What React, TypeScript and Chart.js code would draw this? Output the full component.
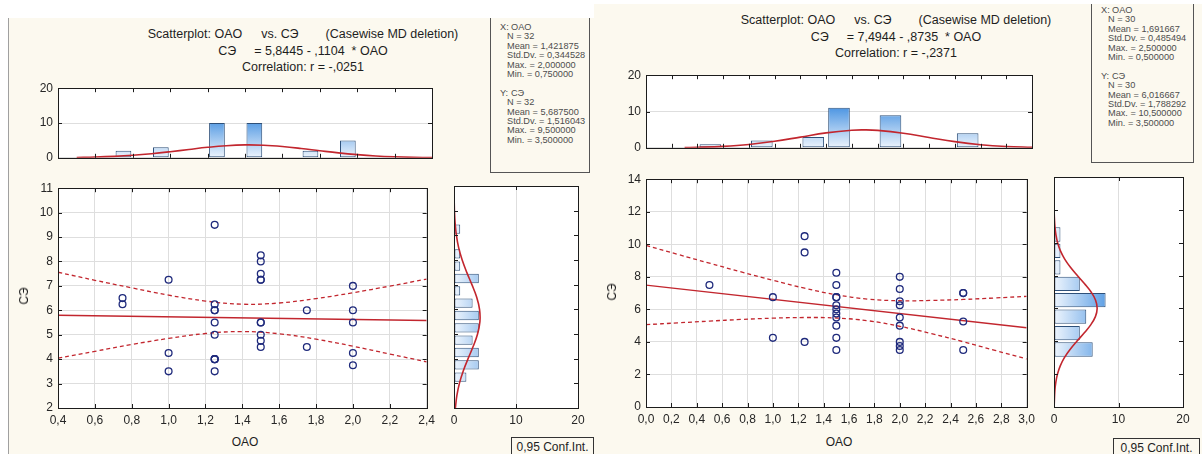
import React, { useEffect, useRef } from "react";
import { Chart, registerables } from "chart.js";

Chart.register(...registerables);

const FONT = "'Liberation Sans', Arial, Helvetica, sans-serif";
Chart.defaults.font.family = FONT;

// ================= LEFT PANEL (N = 32) =================
const L_TITLE_1 = ["Scatterplot: OAO", "vs. СЭ", "(Casewise MD deletion)"];
const L_TITLE_2 = ["СЭ", "= 5,8445 - ,1104  * OAO"];
const L_TITLE_3 = "Correlation: r = -,0251";

const L_X = [0.75, 0.75, 1, 1, 1, 1.25, 1.25, 1.25, 1.25, 1.25, 1.25, 1.25, 1.25, 1.25, 1.25, 1.5, 1.5, 1.5, 1.5, 1.5, 1.5, 1.5, 1.5, 1.5, 1.5, 1.75, 1.75, 2, 2, 2, 2, 2];
const L_Y = [6.5, 6.25, 7.25, 4.25, 3.5, 9.5, 6.25, 6.0, 6.0, 5.5, 5.0, 4.0, 4.0, 4.0, 3.5, 8.25, 8.0, 7.5, 7.25, 7.25, 5.5, 5.5, 5.0, 4.75, 4.5, 6.0, 4.5, 7.0, 6.0, 5.5, 4.25, 3.75];

const L_FIT_X = [0.4, 2.4];
const L_FIT_Y = [5.8, 5.58];
const L_BAND_X = [0.4, 0.6, 0.8, 1.0, 1.2, 1.4, 1.6, 1.8, 2.0, 2.2, 2.4];
const L_BAND_UP = [7.56, 7.23, 6.92, 6.62, 6.38, 6.25, 6.3, 6.48, 6.72, 6.99, 7.28];
const L_BAND_LO = [4.04, 4.32, 4.6, 4.85, 5.05, 5.13, 5.04, 4.82, 4.53, 4.21, 3.89];

const L_XHIST_MID = [0.75, 0.95, 1.25, 1.45, 1.75, 1.95];
const L_XHIST_N = [2, 3, 10, 10, 2, 5];
const L_XCURVE_X = [0.5, 0.6, 0.7, 0.8, 0.9, 1.0, 1.1, 1.2, 1.3, 1.4, 1.5, 1.6, 1.7, 1.8, 1.9, 2.0, 2.1, 2.2, 2.3, 2.4];
const L_XCURVE_N = [0.1, 0.21, 0.41, 0.73, 1.18, 1.75, 2.39, 3.01, 3.48, 3.7, 3.61, 3.24, 2.68, 2.03, 1.41, 0.91, 0.53, 0.29, 0.14, 0.07];

const L_YHIST_MID = [9.25, 8.25, 7.75, 7.25, 6.75, 6.25, 5.75, 5.25, 4.75, 4.25, 3.75, 3.25];
const L_YHIST_N = [1, 1, 1, 4, 1, 3, 4, 4, 3, 4, 4, 2];
const L_YCURVE_Y = [2, 2.5, 3, 3.5, 4, 4.5, 5, 5.5, 6, 6.5, 7, 7.5, 8, 8.5, 9, 9.5, 10, 10.3];
const L_YCURVE_N = [0.22, 0.46, 0.87, 1.49, 2.27, 3.1, 3.8, 4.18, 4.12, 3.65, 2.89, 2.06, 1.32, 0.75, 0.39, 0.18, 0.07, 0.04];

const L_X_AXIS = [0.4, 2.4, 0.2]; // min, max, step
const L_Y_AXIS = [2, 11, 1];
const L_STATS_X = ["N = 32", "Mean = 1,421875", "Std.Dv. = 0,344528", "Max. = 2,000000", "Min. = 0,750000"];
const L_STATS_Y = ["N = 32", "Mean = 5,687500", "Std.Dv. = 1,516043", "Max. = 9,500000", "Min. = 3,500000"];

// ================= RIGHT PANEL (N = 30) =================
const R_TITLE_1 = ["Scatterplot: OAO", "vs. СЭ", "(Casewise MD deletion)"];
const R_TITLE_2 = ["СЭ", "= 7,4944 - ,8735  * OAO"];
const R_TITLE_3 = "Correlation: r = -,2371";

const R_X = [0.5, 1, 1, 1.25, 1.25, 1.25, 1.5, 1.5, 1.5, 1.5, 1.5, 1.5, 1.5, 1.5, 1.5, 1.5, 1.5, 2, 2, 2, 2, 2, 2, 2, 2, 2, 2.5, 2.5, 2.5, 2.5];
const R_Y = [7.5, 6.75, 4.25, 10.5, 9.5, 4.0, 8.25, 7.5, 6.75, 6.75, 6.25, 6.0, 5.75, 5.5, 5.0, 4.25, 3.5, 8.0, 7.25, 6.5, 6.25, 5.5, 5.0, 4.0, 3.75, 3.5, 7.0, 7.0, 5.25, 3.5];

const R_FIT_X = [0, 3];
const R_FIT_Y = [7.49, 4.87];
const R_BAND_X = [0, 0.25, 0.5, 0.75, 1.0, 1.25, 1.5, 1.75, 2.0, 2.25, 2.5, 2.75, 3.0];
const R_BAND_UP = [9.93, 9.38, 8.84, 8.3, 7.79, 7.3, 6.9, 6.63, 6.53, 6.55, 6.61, 6.7, 6.8];
const R_BAND_LO = [5.06, 5.17, 5.28, 5.38, 5.46, 5.5, 5.47, 5.3, 4.96, 4.51, 4.01, 3.48, 2.95];

const R_XHIST_MID = [0.5, 0.9, 1.3, 1.5, 1.9, 2.5];
const R_XHIST_N = [1, 2, 3, 11, 9, 4];
const R_XCURVE_X = [0.3, 0.4, 0.6, 0.8, 1.0, 1.2, 1.4, 1.6, 1.7, 1.8, 2.0, 2.2, 2.4, 2.6, 2.8, 3.0];
const R_XCURVE_N = [0.08, 0.14, 0.39, 0.91, 1.79, 2.95, 4.12, 4.85, 4.93, 4.81, 4.03, 2.85, 1.7, 0.86, 0.36, 0.13];

const R_YHIST_MID = [10.5, 9.5, 8.5, 7.5, 6.5, 5.5, 4.5, 3.5];
const R_YHIST_N = [1, 1, 1, 4, 8, 5, 4, 6];
const R_YCURVE_Y = [0, 1, 1.5, 2, 2.5, 3, 3.5, 4, 4.5, 5, 5.5, 6, 6.5, 7, 7.5, 8, 8.5, 9, 9.5, 10, 10.5, 11, 11.5, 11.8];
const R_YCURVE_N = [0.02, 0.13, 0.28, 0.54, 0.97, 1.61, 2.49, 3.54, 4.67, 5.69, 6.42, 6.69, 6.45, 5.75, 4.74, 3.62, 2.55, 1.66, 1.0, 0.56, 0.29, 0.14, 0.06, 0.03];

const R_X_AXIS = [0, 3, 0.2];
const R_Y_AXIS = [0, 14, 2];
const R_STATS_X = ["N = 30", "Mean = 1,691667", "Std.Dv. = 0,485494", "Max. = 2,500000", "Min. = 0,500000"];
const R_STATS_Y = ["N = 30", "Mean = 6,016667", "Std.Dv. = 1,788292", "Max. = 10,500000", "Min. = 3,500000"];

const HIST_COUNT_AXIS = [0, 20, 10];
const CONF_LABEL = "0,95 Conf.Int.";
const X_NAME = "OAO";
const Y_NAME = "СЭ";

// ================= STYLE =================
const CREAM = "#fcf9ef";
const RED = "#c2262e";
const NAVY = "#1f2a7c";
const BAR_EDGE = "#2e5079";
const GRID = "#dedede";
const INK = "#262626";

const fmt1 = (v: number) => v.toFixed(1).replace(".", ",");
const fmt0 = (v: number) => String(Math.round(v));
const pts = (xs: number[], ys: number[]) => xs.map((x, i) => ({ x, y: ys[i] }));

const framePlugin = {
  id: "frame",
  beforeDraw(chart: any) {
    const { ctx, chartArea: a } = chart;
    ctx.save();
    ctx.fillStyle = "#ffffff";
    ctx.fillRect(a.left, a.top, a.right - a.left, a.bottom - a.top);
    ctx.restore();
  },
  afterDraw(chart: any) {
    const { ctx, chartArea: a } = chart;
    ctx.save();
    ctx.strokeStyle = "#1c1c1c";
    ctx.lineWidth = 1;
    ctx.beginPath();
    Object.values(chart.scales).forEach((s: any) => {
      (s.ticks || []).forEach((t: any) => {
        const p = Math.round(s.getPixelForValue(t.value)) + 0.5;
        if (s.axis === "x") {
          ctx.moveTo(p, a.top);
          ctx.lineTo(p, a.top + 4);
          ctx.moveTo(p, a.bottom);
          ctx.lineTo(p, a.bottom - 4);
        } else {
          ctx.moveTo(a.left, p);
          ctx.lineTo(a.left + 4, p);
          ctx.moveTo(a.right, p);
          ctx.lineTo(a.right - 4, p);
        }
      });
    });
    ctx.stroke();
    ctx.strokeRect(Math.round(a.left) + 0.5, Math.round(a.top) + 0.5, Math.round(a.right - a.left), Math.round(a.bottom - a.top));
    ctx.restore();
  },
};

const tickFont = { family: FONT, size: 12 };

function vGrad(chart: any) {
  const { ctx, chartArea, scales } = chart;
  if (!chartArea) return "#a9cdf3";
  const y0 = scales.y.getPixelForValue(0);
  const y1 = scales.y.getPixelForValue(11);
  const g = ctx.createLinearGradient(0, y0, 0, y1);
  g.addColorStop(0, "#eef5fd");
  g.addColorStop(1, "#4e96e2");
  return g;
}

function hGrad(chart: any) {
  const { ctx, chartArea, scales } = chart;
  if (!chartArea) return "#a9cdf3";
  const x0 = scales.x.getPixelForValue(0);
  const x1 = scales.x.getPixelForValue(9);
  const g = ctx.createLinearGradient(x0, 0, x1, 0);
  g.addColorStop(0, "#eef5fd");
  g.addColorStop(1, "#4e96e2");
  return g;
}

const baseOptions = (pad: any) => ({
  animation: false,
  responsive: false,
  maintainAspectRatio: false,
  events: [],
  layout: { padding: pad },
  plugins: { legend: { display: false }, tooltip: { enabled: false }, title: { display: false } },
});

function scatterConfig(o: any) {
  return {
    type: "scatter",
    data: {
      datasets: [
        {
          data: pts(o.xs, o.ys),
          pointStyle: "circle",
          pointRadius: 3.4,
          borderColor: NAVY,
          backgroundColor: "rgba(0,0,0,0)",
          borderWidth: 1.3,
          showLine: false,
          order: 0,
        },
        { data: pts(o.fitX, o.fitY), showLine: true, borderColor: RED, borderWidth: 1.4, pointRadius: 0, order: 1 },
        { data: pts(o.bandX, o.bandUp), showLine: true, borderColor: RED, borderWidth: 1.3, borderDash: [4, 3], tension: 0.4, pointRadius: 0, order: 2 },
        { data: pts(o.bandX, o.bandLo), showLine: true, borderColor: RED, borderWidth: 1.3, borderDash: [4, 3], tension: 0.4, pointRadius: 0, order: 3 },
      ],
    },
    options: {
      ...baseOptions({ top: o.padTop, right: o.padRight, left: 0, bottom: 0 }),
      scales: {
        x: {
          type: "linear",
          min: o.xAxis[0],
          max: o.xAxis[1],
          ticks: { stepSize: o.xAxis[2], color: INK, font: tickFont, padding: 5, autoSkip: false, maxRotation: 0, callback: (v: number) => fmt1(v) },
          grid: { color: GRID, drawTicks: false },
          border: { display: false },
          afterFit: (s: any) => { s.height = o.xAxisH; },
        },
        y: {
          type: "linear",
          min: o.yAxis[0],
          max: o.yAxis[1],
          ticks: { stepSize: o.yAxis[2], color: INK, font: tickFont, padding: 5, autoSkip: false, callback: (v: number) => fmt0(v) },
          grid: { color: GRID, drawTicks: false },
          border: { display: false },
          afterFit: (s: any) => { s.width = o.yAxisW; },
        },
      },
    },
    plugins: [framePlugin],
  };
}

function topHistConfig(o: any) {
  return {
    type: "bar",
    data: {
      datasets: [
        { type: "line", data: pts(o.curveX, o.curveN), borderColor: RED, borderWidth: 1.6, pointRadius: 0, tension: 0.4, order: 0 },
        {
          type: "bar",
          data: pts(o.mids, o.counts),
          backgroundColor: (c: any) => vGrad(c.chart),
          borderColor: BAR_EDGE,
          borderWidth: 1,
          borderSkipped: false,
          barPercentage: o.barPct,
          categoryPercentage: 1,
          order: 1,
        },
      ],
    },
    options: {
      ...baseOptions({ top: o.padTop, right: o.padRight, left: 0, bottom: o.padBottom }),
      scales: {
        x: {
          type: "linear",
          min: o.xAxis[0],
          max: o.xAxis[1],
          offset: false,
          ticks: { stepSize: o.xAxis[2], display: false },
          grid: { display: false, offset: false },
          border: { display: false },
          afterFit: (s: any) => { s.height = 0; },
        },
        y: {
          type: "linear",
          min: HIST_COUNT_AXIS[0],
          max: HIST_COUNT_AXIS[1],
          ticks: { stepSize: HIST_COUNT_AXIS[2], color: INK, font: tickFont, padding: 5, callback: (v: number) => fmt0(v) },
          grid: { color: GRID, drawTicks: false },
          border: { display: false },
          afterFit: (s: any) => { s.width = o.yAxisW; },
        },
      },
    },
    plugins: [framePlugin],
  };
}

function sideHistConfig(o: any) {
  return {
    type: "bar",
    data: {
      datasets: [
        { type: "line", data: o.curveY.map((y: number, i: number) => ({ x: o.curveN[i], y })), borderColor: RED, borderWidth: 1.6, pointRadius: 0, tension: 0.4, order: 0 },
        {
          type: "bar",
          data: o.mids.map((m: number, i: number) => ({ x: o.counts[i], y: m })),
          backgroundColor: (c: any) => hGrad(c.chart),
          borderColor: BAR_EDGE,
          borderWidth: 1,
          borderSkipped: false,
          barPercentage: o.barPct,
          categoryPercentage: 1,
          order: 1,
        },
      ],
    },
    options: {
      ...baseOptions({ top: o.padTop, right: o.padRight, left: o.padLeft, bottom: 0 }),
      indexAxis: "y",
      scales: {
        x: {
          type: "linear",
          min: HIST_COUNT_AXIS[0],
          max: HIST_COUNT_AXIS[1],
          offset: false,
          ticks: { stepSize: HIST_COUNT_AXIS[2], color: INK, font: tickFont, padding: 5, maxRotation: 0, autoSkip: false, callback: (v: number) => fmt0(v) },
          grid: { color: GRID, drawTicks: false, offset: false },
          border: { display: false },
          afterFit: (s: any) => { s.height = o.xAxisH; },
        },
        y: {
          type: "linear",
          min: o.yAxis[0],
          max: o.yAxis[1],
          offset: false,
          ticks: { stepSize: o.yAxis[2], display: false },
          grid: { display: false, offset: false },
          border: { display: false },
          afterFit: (s: any) => { s.width = 0; },
        },
      },
    },
    plugins: [framePlugin],
  };
}

function ChartCanvas({ left, top, width, height, config }: { left: number; top: number; width: number; height: number; config: any }) {
  const ref = useRef<HTMLCanvasElement>(null);
  useEffect(() => {
    const chart = new Chart(ref.current as HTMLCanvasElement, config);
    return () => chart.destroy();
  }, []);
  return (
    <canvas
      ref={ref}
      width={width}
      height={height}
      style={{ position: "absolute", left, top, width, height, display: "block" }}
    />
  );
}

function Text({ left, top, width, children, align = "center", size = 12, lh = 16, color = "#1e1e1e" }: any) {
  return (
    <div
      style={{
        position: "absolute",
        left,
        top,
        width,
        textAlign: align,
        fontSize: size,
        lineHeight: `${lh}px`,
        whiteSpace: "pre",
        color,
        fontFamily: FONT,
      }}
    >
      {children}
    </div>
  );
}

function Titles({ cx, top, l1, l2, l3 }: any) {
  return (
    <>
      <Text left={cx - 250} top={top} width={500} size={12.5}>
        <span>{l1[0]}</span>
        <span style={{ marginLeft: 19 }}>{l1[1]}</span>
        <span style={{ marginLeft: 27 }}>{l1[2]}</span>
      </Text>
      <Text left={cx - 250} top={top + 16.5} width={500} size={12.5}>
        <span>{l2[0]}</span>
        <span style={{ marginLeft: 18 }}>{l2[1]}</span>
      </Text>
      <Text left={cx - 250} top={top + 33} width={500} size={12.5}>
        {l3}
      </Text>
    </>
  );
}

function StatsBox({ left, top, width, height, first, xLines, yLines }: any) {
  const lh = 9.4;
  const line = (txt: string, x: number, y: number, key: string) => (
    <div key={key} style={{ position: "absolute", left: x, top: y, fontSize: 9.2, lineHeight: `${lh}px`, whiteSpace: "pre", color: "#4d4d4d", fontFamily: FONT }}>
      {txt}
    </div>
  );
  const rows: any[] = [];
  rows.push(line("X:", 9, first, "xh"));
  rows.push(line(X_NAME, 20, first, "xn"));
  xLines.forEach((t: string, i: number) => rows.push(line(t, 16, first + lh * (i + 1), "x" + i)));
  const yStart = first + lh * 7;
  rows.push(line("Y:", 9, yStart, "yh"));
  rows.push(line(Y_NAME, 20, yStart, "yn"));
  yLines.forEach((t: string, i: number) => rows.push(line(t, 16, yStart + lh * (i + 1), "y" + i)));
  return (
    <div
      style={{
        position: "absolute",
        left,
        top,
        width,
        height,
        boxSizing: "border-box",
        background: CREAM,
        borderLeft: "1px solid #555",
        borderRight: "1px solid #555",
        borderBottom: "1px solid #555",
      }}
    >
      {rows}
    </div>
  );
}

function ConfBox({ left, top, width }: any) {
  return (
    <div
      style={{
        position: "absolute",
        left,
        top,
        width,
        height: 22,
        boxSizing: "border-box",
        border: "1px solid #333",
        background: CREAM,
        fontFamily: FONT,
        fontSize: 12,
        lineHeight: "18px",
        textAlign: "center",
        color: "#1e1e1e",
        whiteSpace: "pre",
      }}
    >
      {CONF_LABEL}
    </div>
  );
}

function RotLabel({ cx, cy, text }: any) {
  return (
    <div
      style={{
        position: "absolute",
        left: cx,
        top: cy,
        transform: "translate(-50%, -50%) rotate(-90deg)",
        fontFamily: FONT,
        fontSize: 12,
        lineHeight: "14px",
        color: "#1e1e1e",
        whiteSpace: "pre",
      }}
    >
      {text}
    </div>
  );
}

export default function App() {
  const lScatter = scatterConfig({
    xs: L_X, ys: L_Y, fitX: L_FIT_X, fitY: L_FIT_Y, bandX: L_BAND_X, bandUp: L_BAND_UP, bandLo: L_BAND_LO,
    xAxis: L_X_AXIS, yAxis: L_Y_AXIS, padTop: 10, padRight: 8, yAxisW: 28, xAxisH: 24,
  });
  const lTop = topHistConfig({
    mids: L_XHIST_MID, counts: L_XHIST_N, curveX: L_XCURVE_X, curveN: L_XCURVE_N, xAxis: L_X_AXIS,
    barPct: 0.42, padTop: 10, padRight: 8, padBottom: 10, yAxisW: 28,
  });
  const lSide = sideHistConfig({
    mids: L_YHIST_MID, counts: L_YHIST_N, curveY: L_YCURVE_Y, curveN: L_YCURVE_N, yAxis: L_Y_AXIS,
    barPct: 0.76, padTop: 10, padRight: 12, padLeft: 14, xAxisH: 24,
  });

  const rScatter = scatterConfig({
    xs: R_X, ys: R_Y, fitX: R_FIT_X, fitY: R_FIT_Y, bandX: R_BAND_X, bandUp: R_BAND_UP, bandLo: R_BAND_LO,
    xAxis: R_X_AXIS, yAxis: R_Y_AXIS, padTop: 10, padRight: 8, yAxisW: 34, xAxisH: 24,
  });
  const rTop = topHistConfig({
    mids: R_XHIST_MID, counts: R_XHIST_N, curveX: R_XCURVE_X, curveN: R_XCURVE_N, xAxis: R_X_AXIS,
    barPct: 0.84, padTop: 10, padRight: 8, padBottom: 10, yAxisW: 34,
  });
  const rSide = sideHistConfig({
    mids: R_YHIST_MID, counts: R_YHIST_N, curveY: R_YCURVE_Y, curveN: R_YCURVE_N, yAxis: R_Y_AXIS,
    barPct: 0.87, padTop: 10, padRight: 12, padLeft: 14, xAxisH: 24,
  });

  return (
    <div style={{ position: "absolute", left: 0, top: 0, width: 1202, height: 454, overflow: "hidden", background: "#ffffff", fontFamily: FONT }}>
      {/* panels */}
      <div style={{ position: "absolute", left: 8, top: 18, width: 586, height: 436, background: CREAM, borderLeft: "1px solid #a0a0a0", boxSizing: "border-box" }} />
      <div style={{ position: "absolute", left: 594, top: 4, width: 608, height: 450, background: CREAM }} />

      {/* left panel */}
      <Titles cx={303} top={26} l1={L_TITLE_1} l2={L_TITLE_2} l3={L_TITLE_3} />
      <StatsBox left={490} top={18} width={100} height={155} first={5} xLines={L_STATS_X} yLines={L_STATS_Y} />
      <ChartCanvas left={30} top={76} width={410} height={94} config={lTop} />
      <ChartCanvas left={30} top={176} width={410} height={256} config={lScatter} />
      <ChartCanvas left={440} top={176} width={150} height={256} config={lSide} />
      <Text left={195} top={434} width={100}>{X_NAME}</Text>
      <RotLabel cx={24} cy={296} text={Y_NAME} />
      <ConfBox left={511} top={437} width={83} />

      {/* right panel */}
      <Titles cx={896} top={12} l1={R_TITLE_1} l2={R_TITLE_2} l3={R_TITLE_3} />
      <StatsBox left={1091} top={4} width={103} height={159} first={2} xLines={R_STATS_X} yLines={R_STATS_Y} />
      <ChartCanvas left={612} top={63} width={428} height={97} config={rTop} />
      <ChartCanvas left={612} top={167} width={428} height={264} config={rScatter} />
      <ChartCanvas left={1040} top={167} width={155} height={264} config={rSide} />
      <Text left={789} top={434} width={100}>{X_NAME}</Text>
      <RotLabel cx={612} cy={292} text={Y_NAME} />
      <ConfBox left={1113} top={438} width={87} />
    </div>
  );
}
